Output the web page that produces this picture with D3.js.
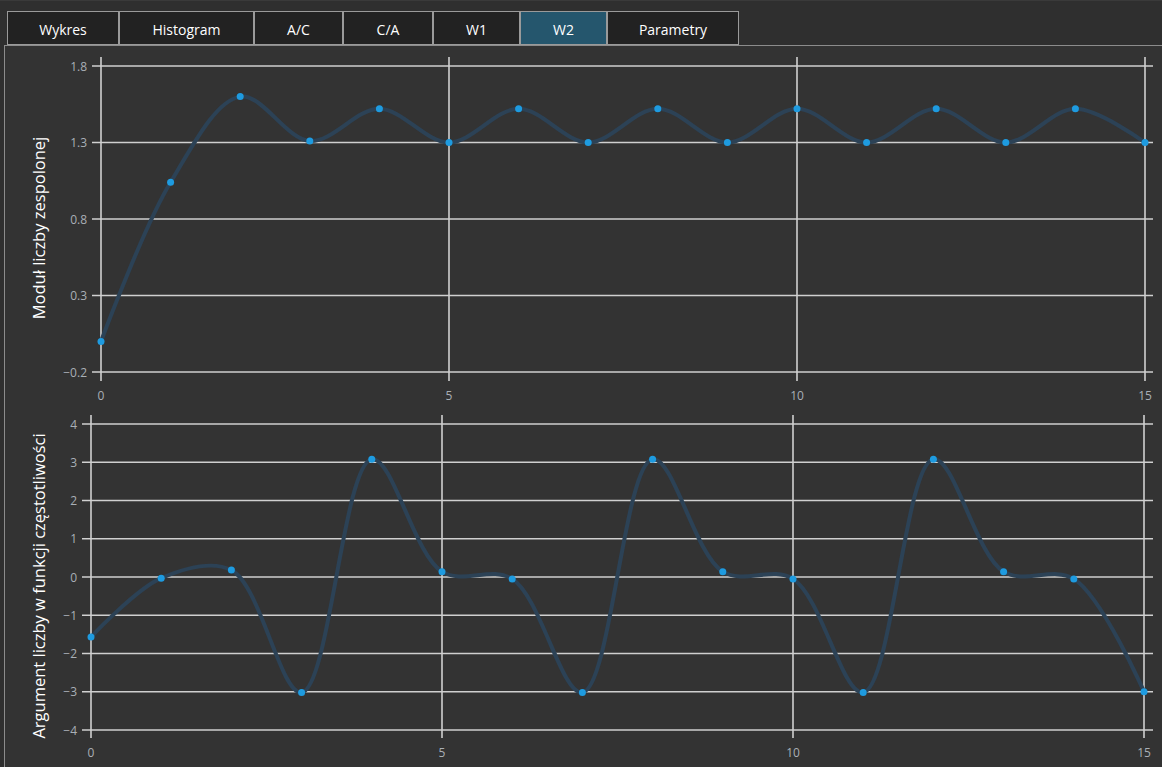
<!DOCTYPE html>
<html><head><meta charset="utf-8">
<script src="https://cdn.jsdelivr.net/npm/d3@7/dist/d3.min.js"></script>
<style>
html,body{margin:0;padding:0;background:#2f2f2f;overflow:hidden;}
svg{display:block;}
</style></head>
<body>
<svg id="c" width="1162" height="767"></svg>
<script>
const tabs = ["Wykres","Histogram","A/C","C/A","W1","W2","Parametry"];
const tabEdges = [7,119,254,343,433,520,607,739];
const activeTab = "W2";

const xIndex = d3.range(0,16);
const modulus = [0.0,1.04,1.60,1.31,1.52,1.30,1.52,1.30,1.52,1.30,1.52,1.30,1.52,1.30,1.52,1.30];
const argument = [-1.57,-0.03,0.18,-3.02,3.08,0.14,-0.05,-3.02,3.08,0.14,-0.05,-3.02,3.08,0.14,-0.05,-3.0];
const topYTicks = [-0.2,0.3,0.8,1.3,1.8];
const botYTicks = [-4,-3,-2,-1,0,1,2,3,4];
const xTicks = [0,5,10,15];
const topTitle = "Moduł liczby zespolonej";
const botTitle = "Argument liczby w funkcji częstotliwości";

const svg = d3.select("#c");
const FONT = "'Open Sans', 'Noto Sans', sans-serif";

// backgrounds
svg.append("rect").attr("x",0).attr("y",0).attr("width",1162).attr("height",767).attr("fill","#2f2f2f");
svg.append("rect").attr("x",0).attr("y",0).attr("width",1162).attr("height",1).attr("fill","#3a3a3a");
svg.append("rect").attr("x",4.5).attr("y",45.5).attr("width",1162).attr("height",730).attr("fill","#333333").attr("stroke","#8c8c8c").attr("stroke-width",1);

// tabs
const tabG = svg.append("g");
tabs.forEach((t,i)=>{
  const x0 = tabEdges[i], x1 = tabEdges[i+1];
  tabG.append("rect").attr("x",x0+0.5).attr("y",11.5).attr("width",x1-x0-1).attr("height",33)
    .attr("fill", t===activeTab ? "#25566d" : "#222222").attr("stroke","#9a9a9a").attr("stroke-width",1);
  tabG.append("text").attr("x",(x0+x1)/2).attr("y",29).attr("text-anchor","middle").attr("dominant-baseline","central")
    .attr("fill","#ffffff").attr("font-family",FONT).attr("font-size","14px").text(t);
});

function drawChart(cfg){
  const g = svg.append("g");
  const x = d3.scaleLinear().domain([0,15]).range([cfg.x0,cfg.x1]);
  const y = d3.scaleLinear().domain(cfg.yDomain).range([cfg.yBottom,cfg.yTop]);
  g.selectAll(".hg").data(cfg.yTicks).join("line")
    .attr("x1",cfg.gridLeft).attr("x2",cfg.gridRight)
    .attr("y1",d=>y(d)).attr("y2",d=>y(d))
    .attr("stroke","#d0d0d0").attr("stroke-width",1.6);
  g.selectAll(".vg").data(xTicks).join("line")
    .attr("x1",d=>x(d)).attr("x2",d=>x(d))
    .attr("y1",cfg.vTop).attr("y2",cfg.vBottom)
    .attr("stroke","#d0d0d0").attr("stroke-width",1.6);
  g.selectAll(".yl").data(cfg.yTicks).join("text")
    .attr("x",cfg.yLabelX).attr("y",d=>y(d)).attr("text-anchor","end").attr("dominant-baseline","central")
    .attr("fill","#a9afb6").attr("font-family",FONT).attr("font-size","12px")
    .text(d=>d3.format("")(d));
  g.selectAll(".xl").data(xTicks).join("text")
    .attr("x",d=>x(d)).attr("y",cfg.xLabelY).attr("text-anchor","middle").attr("dominant-baseline","central")
    .attr("fill","#a9afb6").attr("font-family",FONT).attr("font-size","12px")
    .text(d=>d);
  g.append("text").attr("transform",`translate(${cfg.titleX},${cfg.titleY}) rotate(-90)`)
    .attr("text-anchor","middle").attr("dominant-baseline","central")
    .attr("fill","#ffffff").attr("font-family",FONT).attr("font-size","16.5px").text(cfg.title);
  const line = d3.line().x((d,i)=>x(xIndex[i])).y(d=>y(d)).curve(d3.curveCatmullRom.alpha(0.5));
  g.append("path").datum(cfg.values).attr("d",line).attr("fill","none")
    .attr("stroke","#2c4256").attr("stroke-width",4).attr("stroke-linejoin","round");
  g.selectAll(".pt").data(cfg.values).join("circle")
    .attr("cx",(d,i)=>x(xIndex[i])).attr("cy",d=>y(d)).attr("r",3.5).attr("fill","#1e9be0");
}

drawChart({values:modulus, yDomain:[-0.2,1.8], yTicks:topYTicks,
  x0:101, x1:1145, yBottom:372, yTop:66, gridLeft:92, gridRight:1153, vTop:57, vBottom:381,
  yLabelX:87, xLabelY:395, titleX:38, titleY:228, title:topTitle});
drawChart({values:argument, yDomain:[-4,4], yTicks:botYTicks,
  x0:91, x1:1144, yBottom:730, yTop:424, gridLeft:82, gridRight:1153, vTop:415, vBottom:738,
  yLabelX:77, xLabelY:752, titleX:38, titleY:586, title:botTitle});
</script>
</body></html>
